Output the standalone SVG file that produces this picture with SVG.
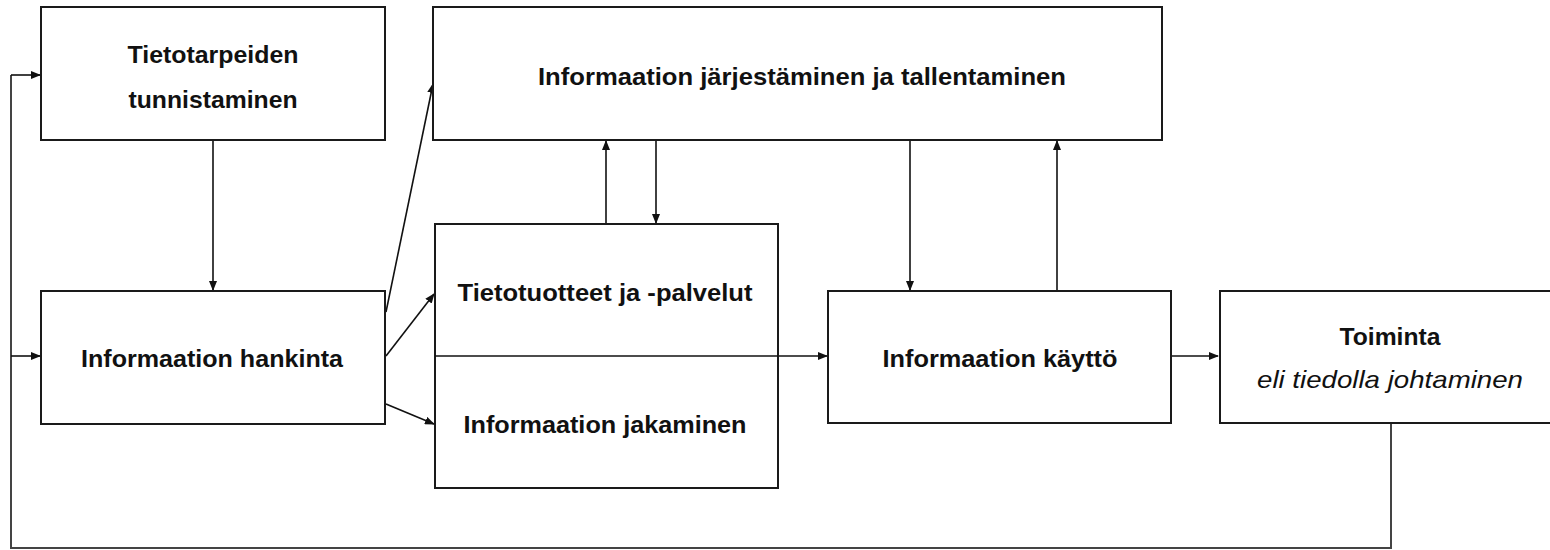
<svg xmlns="http://www.w3.org/2000/svg" width="1550" height="550" viewBox="0 0 1550 550">
<style>
.box{fill:#fff;stroke:#1a1a1a;stroke-width:2}
.t{font-family:"Liberation Sans",Arial,sans-serif;font-weight:bold;font-size:24px;fill:#111;text-anchor:middle}
.i{font-style:italic;font-weight:normal}
.c{fill:none;stroke:#111;stroke-width:1.6}
.g{fill:none;stroke:#444;stroke-width:2}
</style>
<defs>
<marker id="a" markerWidth="10" markerHeight="8" refX="9" refY="4" orient="auto" markerUnits="userSpaceOnUse">
<path d="M0,0 L10,4 L0,8 Z" fill="#111"/>
</marker>
</defs>
<rect width="1550" height="550" fill="#fff"/>
<g id="connectors">
<polyline class="g" points="1391,424 1391,548 11,548 11,75"/>
<line class="c" x1="11" y1="75" x2="40" y2="75" marker-end="url(#a)"/>
<line class="c" x1="11" y1="356" x2="40" y2="356" marker-end="url(#a)"/>
<line class="c" x1="213" y1="140" x2="213" y2="290" marker-end="url(#a)"/>
<line class="c" x1="386" y1="312" x2="433" y2="84" marker-end="url(#a)"/>
<line class="c" x1="386" y1="356" x2="434" y2="294" marker-end="url(#a)"/>
<line class="c" x1="386" y1="404" x2="434" y2="424" marker-end="url(#a)"/>
<line class="c" x1="606" y1="224" x2="606" y2="141" marker-end="url(#a)"/>
<line class="c" x1="656" y1="140" x2="656" y2="223" marker-end="url(#a)"/>
<line class="c" x1="778" y1="356" x2="827" y2="356" marker-end="url(#a)"/>
<line class="c" x1="910" y1="140" x2="910" y2="290" marker-end="url(#a)"/>
<line class="c" x1="1057" y1="291" x2="1057" y2="141" marker-end="url(#a)"/>
<line class="c" x1="1172" y1="356" x2="1218" y2="356" marker-end="url(#a)"/>
</g>
<g id="n1">
<rect class="box" x="41" y="7" width="344" height="133"/>
<text class="t" x="213" y="63" textLength="171" lengthAdjust="spacingAndGlyphs">Tietotarpeiden</text>
<text class="t" x="213" y="108" textLength="169" lengthAdjust="spacingAndGlyphs">tunnistaminen</text>
</g>
<g id="n2">
<rect class="box" x="433" y="7" width="729" height="133"/>
<text class="t" x="802" y="85" textLength="528" lengthAdjust="spacingAndGlyphs">Informaation järjestäminen ja tallentaminen</text>
</g>
<g id="n3">
<rect class="box" x="41" y="291" width="344" height="133"/>
<text class="t" x="212" y="367" textLength="262" lengthAdjust="spacingAndGlyphs">Informaation hankinta</text>
</g>
<g id="n4">
<rect class="box" x="435" y="224" width="343" height="264"/>
<line class="c" x1="435" y1="356" x2="778" y2="356"/>
<text class="t" x="605" y="301" textLength="295" lengthAdjust="spacingAndGlyphs">Tietotuotteet ja -palvelut</text>
<text class="t" x="605" y="433" textLength="283" lengthAdjust="spacingAndGlyphs">Informaation jakaminen</text>
</g>
<g id="n5">
<rect class="box" x="828" y="291" width="343" height="132"/>
<text class="t" x="1000" y="367" textLength="235" lengthAdjust="spacingAndGlyphs">Informaation käyttö</text>
</g>
<g id="n6">
<rect class="box" x="1220" y="291" width="340" height="132"/>
<text class="t" x="1390" y="345" textLength="101" lengthAdjust="spacingAndGlyphs">Toiminta</text>
<text class="t i" x="1390" y="388" textLength="266" lengthAdjust="spacingAndGlyphs">eli tiedolla johtaminen</text>
</g>
</svg>
